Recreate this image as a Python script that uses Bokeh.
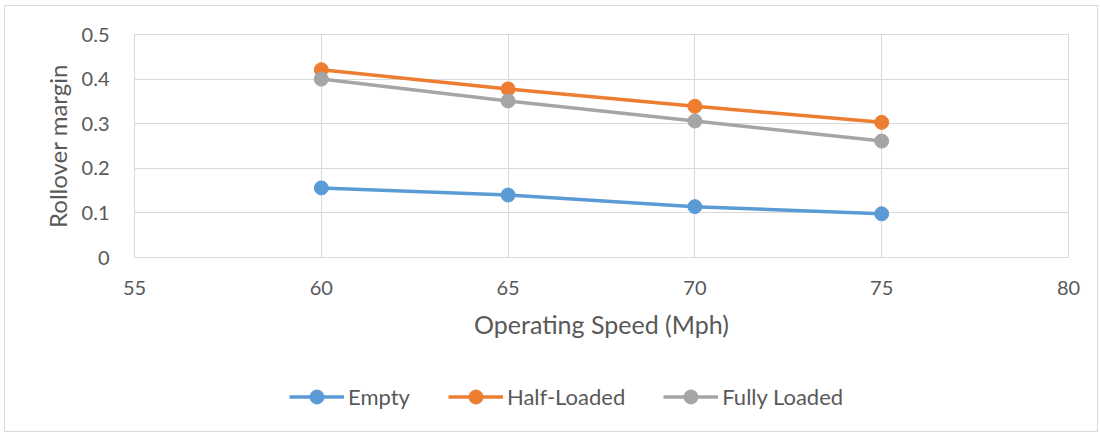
from bokeh.plotting import figure
from bokeh.layouts import column
from bokeh.models import FixedTicker, Legend, LegendItem, Range1d
from bokeh.embed import file_html
from bokeh.resources import INLINE

# ---- data ----
speeds = [60, 65, 70, 75]
empty = [0.156, 0.140, 0.114, 0.098]
half_loaded = [0.421, 0.378, 0.339, 0.303]
fully_loaded = [0.400, 0.351, 0.306, 0.261]
series_names = ["Empty", "Half-Loaded", "Fully Loaded"]
x_ticks = [55, 60, 65, 70, 75, 80]
y_ticks = [0, 0.1, 0.2, 0.3, 0.4, 0.5]
y_tick_labels = ["0", "0.1", "0.2", "0.3", "0.4", "0.5"]
x_title = "Operating Speed (Mph)"
y_title = "Rollover margin"

# ---- style ----
colors = ["#5b9bd5", "#ed7d31", "#a5a5a5"]
FONT = "Lato"
TXT = "#595959"
GRID = "#d9d9d9"
BORDER = "1px solid #d9d9d9"

W = 1094
p = figure(width=W, height=345, output_backend="svg", toolbar_location=None,
           x_range=Range1d(55, 80), y_range=Range1d(0, 0.5),
           min_border_left=129, min_border_right=31, min_border_top=28,
           min_border_bottom=94)
p.styles = {"border-left": BORDER, "border-right": BORDER, "border-top": BORDER}
p.border_fill_color = "white"
p.outline_line_color = GRID
p.outline_line_width = 1

p.xaxis.ticker = FixedTicker(ticks=x_ticks)
p.yaxis.ticker = FixedTicker(ticks=y_ticks)
p.yaxis.major_label_overrides = {t: l for t, l in zip(y_ticks, y_tick_labels)}

for ax in (p.xaxis, p.yaxis):
    ax.axis_line_color = GRID
    ax.axis_line_width = 1
    ax.major_tick_line_color = None
    ax.minor_tick_line_color = None
    ax.major_label_text_font = FONT
    ax.major_label_text_font_size = "20px"
    ax.major_label_text_color = TXT
    ax.axis_label_text_font = FONT
    ax.axis_label_text_font_style = "normal"
    ax.axis_label_text_color = TXT

p.xaxis.axis_label_text_font_size = "25px"
p.yaxis.axis_label_text_font_size = "24px"
p.xaxis.major_label_standoff = 17
p.yaxis.major_label_standoff = 19
p.xaxis.axis_label = x_title
p.yaxis.axis_label = y_title
p.xaxis.axis_label_standoff = 11
p.yaxis.axis_label_standoff = 7

p.xgrid.grid_line_color = GRID
p.ygrid.grid_line_color = GRID

series = [empty, half_loaded, fully_loaded]
for vals, c in zip(series, colors):
    p.line(speeds, vals, line_color=c, line_width=3.5)
    p.scatter(speeds, vals, size=14, fill_color=c, line_color=c)

# ---- legend strip below the chart (its frame aligns with the chart frame) ----
q = figure(width=W, height=82, output_backend="svg", toolbar_location=None,
           x_range=Range1d(0, 1), y_range=Range1d(0, 1),
           x_axis_location=None, y_axis_location=None,
           min_border_left=0, min_border_right=0, min_border_top=0,
           min_border_bottom=0)
q.styles = {"border-left": BORDER, "border-right": BORDER, "border-bottom": BORDER}
q.grid.visible = False
q.outline_line_color = None
q.border_fill_color = "white"

items = []
for name, vals, c in zip(series_names, series, colors):
    # same series, but outside this strip's ranges: only the legend glyphs show
    ln = q.line(speeds, vals, line_color=c, line_width=3.5)
    sc = q.scatter(speeds, vals, size=14, fill_color=c, line_color=c)
    items.append(LegendItem(label=name, renderers=[ln, sc]))

legend = Legend(items=items, orientation="horizontal", location=(155, 18),
                border_line_color=None, background_fill_alpha=0,
                padding=0, margin=0, spacing=38,
                glyph_width=55, glyph_height=35, label_height=22,
                label_standoff=4,
                label_text_font=FONT, label_text_font_size="22px",
                label_text_color=TXT)
q.add_layout(legend, "center")

layout = column(p, q, spacing=0, styles={"margin-left": "4px", "margin-top": "5px"})

open("out.html", "w").write(file_html(layout, INLINE))
